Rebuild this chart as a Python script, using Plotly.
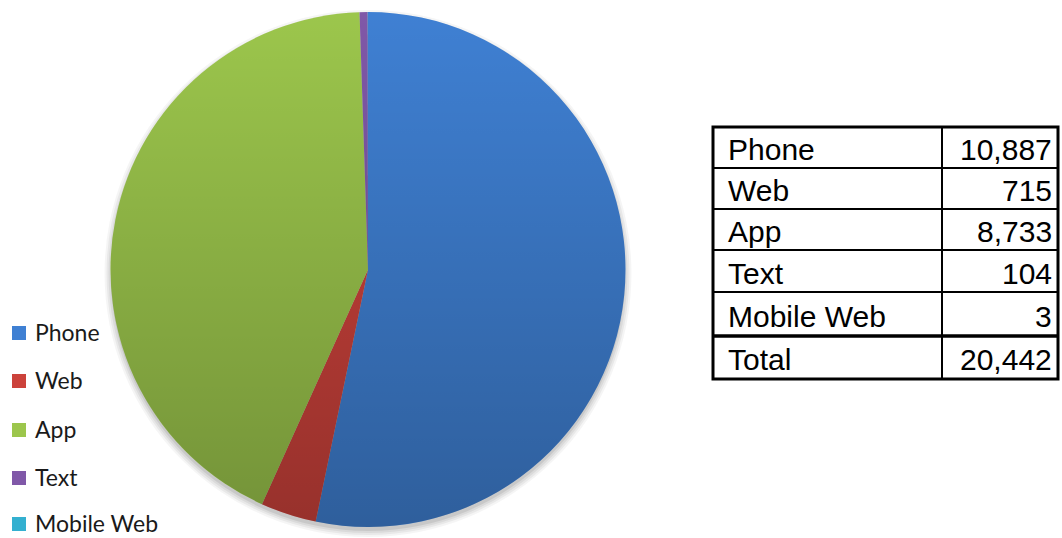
import base64
import plotly.graph_objects as go

# Contact channel volumes
labels = ["Phone", "Web", "App", "Text", "Mobile Web"]
values = [10887, 715, 8733, 104, 3]
colors = ["#3F80D3", "#CC423B", "#9CC64C", "#8058A8", "#33B0D0"]

W, H = 1062, 538


def px(x):
    return x / W


def py(y):
    return 1 - y / H


# Pie placement (pixel frame)
cx, cy, r = 368, 269.5, 257.5

fig = go.Figure()
fig.add_trace(go.Pie(
    labels=labels,
    values=values,
    sort=False,
    direction="clockwise",
    rotation=0,
    marker=dict(colors=colors, line=dict(width=0)),
    textinfo="none",
    hoverinfo="label+value+percent",
    showlegend=False,
    domain=dict(x=[px(cx - r), px(cx + r)], y=[py(cy + r), py(cy - r)]),
))

shapes = []
annotations = []

# soft drop shadow under the pie
for grow, op in [(6, 0.04), (4, 0.05), (2, 0.06), (0, 0.08)]:
    rr = r + grow
    oy = 4
    shapes.append(dict(
        type="circle", xref="paper", yref="paper", layer="below",
        x0=px(cx - rr), x1=px(cx + rr), y0=py(cy + oy + rr), y1=py(cy + oy - rr),
        fillcolor=f"rgba(0,0,0,{op})", line=dict(width=0),
    ))

# vertical shading over the pie
svg = (
    '<svg xmlns="http://www.w3.org/2000/svg" width="200" height="200">'
    '<defs><linearGradient id="g" x1="0" y1="0" x2="0" y2="1">'
    '<stop offset="0" stop-color="#000" stop-opacity="0"/>'
    '<stop offset="1" stop-color="#000" stop-opacity="0.26"/>'
    '</linearGradient></defs>'
    '<circle cx="100" cy="100" r="100" fill="url(#g)"/></svg>'
)
src = "data:image/svg+xml;base64," + base64.b64encode(svg.encode()).decode()
fig.add_layout_image(dict(
    source=src, xref="paper", yref="paper",
    x=px(cx - r), y=py(cy - r), sizex=2 * r / W, sizey=2 * r / H,
    sizing="stretch", xanchor="left", yanchor="top", layer="above",
))

# Legend (left, bottom)
leg_y = [332, 380, 429, 477, 523]
for lab, col, yy in zip(labels, colors, leg_y):
    shapes.append(dict(
        type="rect", xref="paper", yref="paper",
        x0=px(12), x1=px(26), y0=py(yy + 8), y1=py(yy - 6),
        fillcolor=col, line=dict(width=0),
    ))
    annotations.append(dict(
        x=px(33), y=py(yy), xref="paper", yref="paper",
        text=lab, showarrow=False, xanchor="left", yanchor="middle",
        font=dict(family="Lato, Carlito, sans-serif", size=23, color="#1a1a1a"),
    ))

# Summary table
table_labels = labels + ["Total"]
table_values = values + [sum(values)]
row_lines = [127, 168, 209, 250, 292, 336, 379]
tx0, tdiv, tx1 = 713, 942, 1058

for k, (lab, val) in enumerate(zip(table_labels, table_values)):
    ymid = (row_lines[k] + row_lines[k + 1]) / 2 + 2
    annotations.append(dict(
        x=px(726), y=py(ymid), xref="paper", yref="paper",
        text=lab, showarrow=False, xanchor="left", yanchor="middle",
        font=dict(family="Liberation Sans, Arial, sans-serif", size=30, color="#000"),
    ))
    annotations.append(dict(
        x=px(1054), y=py(ymid), xref="paper", yref="paper",
        text=f"{val:,}", showarrow=False, xanchor="right", yanchor="middle",
        font=dict(family="Liberation Sans, Arial, sans-serif", size=30, color="#000"),
    ))

for k, yy in enumerate(row_lines[1:-1]):
    lw = 3.5 if k == len(row_lines) - 3 else 2
    shapes.append(dict(
        type="line", xref="paper", yref="paper",
        x0=px(tx0), x1=px(tx1), y0=py(yy), y1=py(yy),
        line=dict(color="#000", width=lw),
    ))
shapes.append(dict(
    type="line", xref="paper", yref="paper",
    x0=px(tdiv), x1=px(tdiv), y0=py(row_lines[0]), y1=py(row_lines[-1]),
    line=dict(color="#000", width=2),
))
shapes.append(dict(
    type="rect", xref="paper", yref="paper",
    x0=px(tx0), x1=px(tx1), y0=py(row_lines[-1]), y1=py(row_lines[0]),
    line=dict(color="#000", width=3),
))

fig.update_layout(
    width=W, height=H,
    margin=dict(l=0, r=0, t=0, b=0),
    paper_bgcolor="white",
    plot_bgcolor="white",
    showlegend=False,
    shapes=shapes,
    annotations=annotations,
)

fig.write_html("out.html")
